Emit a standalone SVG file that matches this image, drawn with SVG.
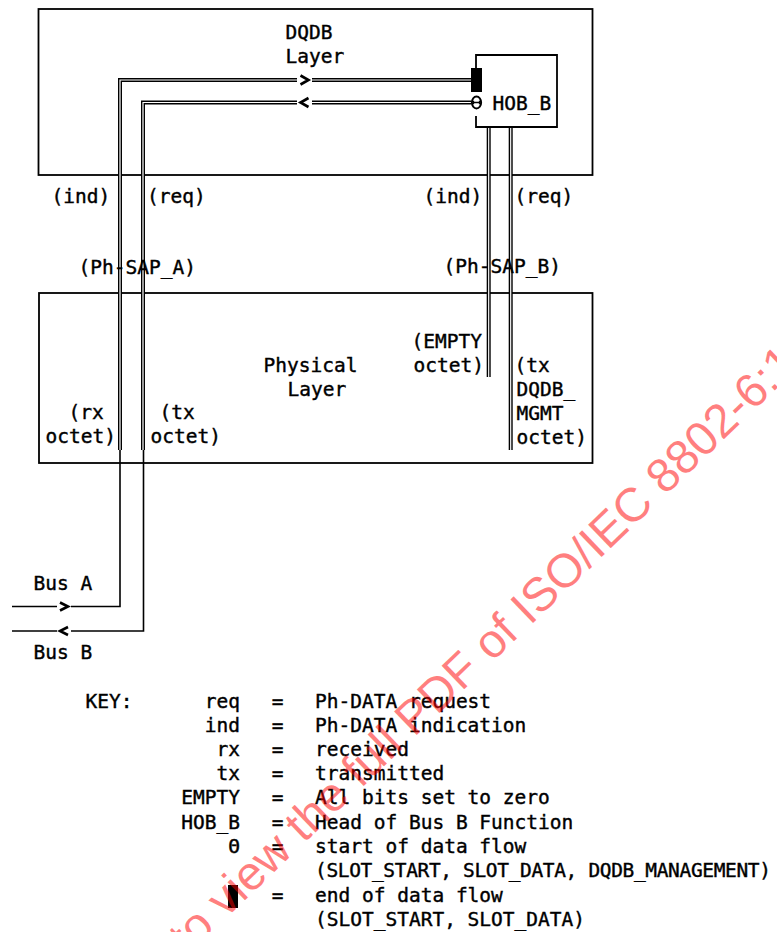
<svg xmlns="http://www.w3.org/2000/svg" xmlns:xlink="http://www.w3.org/1999/xlink" width="777" height="932" viewBox="0 0 777 932">
<style>
text{font-family:"DejaVu Sans Mono","Liberation Mono",monospace;font-size:19.5px;fill:#000;stroke:#000;stroke-width:0.4}
.box{fill:none;stroke:#000;stroke-width:1.8}
.dbl{fill:none;stroke:#000;stroke-width:4}
.dblin{fill:none;stroke:#fff;stroke-width:1.2}
.sgl{fill:none;stroke:#000;stroke-width:1.6}
.chev{fill:none;stroke:#000;stroke-width:2.6;stroke-linejoin:miter}
.gap{fill:#fff}
.end{text-anchor:end}
.mid{text-anchor:middle}
text.wm{font-family:"Liberation Sans",Arial,sans-serif;font-size:47.5px;fill:#ff0000;fill-opacity:0.5;stroke:none}
</style>
<defs>
<path id="pA" d="M120,450 V80 H471"/>
<path id="pB" d="M471,102.5 H143 V450"/>
<path id="pC" d="M488.7,127 V377"/>
<path id="pD" d="M510.7,127 V450"/>
</defs>
<rect width="777" height="932" fill="#fff"/>

<g id="dqdb-layer">
<rect class="box" x="38.5" y="9" width="554" height="166"/>
<text x="285.5" y="39">DQDB</text>
<text x="285.5" y="63">Layer</text>
</g>

<g id="physical-layer">
<rect class="box" x="39" y="293" width="553.5" height="170"/>
<text x="263.5" y="372">Physical</text>
<text x="287.5" y="396">Layer</text>
</g>

<g id="connectors">
<use href="#pA" class="dbl"/><use href="#pA" class="dblin"/>
<use href="#pB" class="dbl"/><use href="#pB" class="dblin"/>
<use href="#pC" class="dbl"/><use href="#pC" class="dblin"/>
<use href="#pD" class="dbl"/><use href="#pD" class="dblin"/>
<path class="sgl" d="M120,450 V606.5 H12"/>
<path class="sgl" d="M143.5,450 V631 H12"/>
<rect class="gap" x="297" y="76" width="15" height="9"/>
<path class="chev" d="M300.5,75.5 L308.5,80 L300.5,84.5"/>
<rect class="gap" x="297" y="98" width="15" height="9"/>
<path class="chev" d="M308.5,98 L300.5,102.5 L308.5,107"/>
<rect class="gap" x="57" y="603" width="14" height="7"/>
<path class="chev" d="M60,602.5 L68,606.5 L60,610.5"/>
<rect class="gap" x="57" y="627" width="14" height="7"/>
<path class="chev" d="M68,627 L60,631 L68,635"/>
</g>

<g id="hob-b">
<path class="box" d="M476,68 V55 H557 V127 H476 V116"/>
<rect x="471" y="68" width="11" height="24" fill="#000"/>
<ellipse cx="476.5" cy="102.5" rx="4.6" ry="6" fill="#fff" stroke="#000" stroke-width="2"/>
<path d="M473.5,102.5 H479.5 M473.5,100.8 V104.2 M479.5,100.8 V104.2" stroke="#000" stroke-width="1.3"/>
<text x="492.5" y="110">HOB_B</text>
</g>

<g id="sap-a">
<text x="51.5" y="203">(ind)</text>
<text x="147" y="203">(req)</text>
<text x="78.5" y="274">(Ph-SAP_A)</text>
<text x="68.5" y="419">(rx</text>
<text x="45.5" y="443">octet)</text>
<text x="159.5" y="419">(tx</text>
<text x="150.5" y="443">octet)</text>
</g>

<g id="sap-b">
<text x="423.5" y="203">(ind)</text>
<text x="514.5" y="203">(req)</text>
<text x="443.5" y="273">(Ph-SAP_B)</text>
<text x="411.5" y="348">(EMPTY</text>
<text x="413.5" y="372">octet)</text>
<text x="514.5" y="372">(tx</text>
<text x="516.5" y="396">DQDB_</text>
<text x="516.5" y="420">MGMT</text>
<text x="516.5" y="444">octet)</text>
</g>

<g id="bus-a"><text x="33.5" y="590">Bus A</text></g>
<g id="bus-b"><text x="33.5" y="659">Bus B</text></g>

<g id="key">
<text x="85.5" y="708">KEY:</text>
<text class="end" x="240" y="708">req</text>
<text class="end" x="240" y="732">ind</text>
<text class="end" x="240" y="756">rx</text>
<text class="end" x="240" y="780">tx</text>
<text class="end" x="240" y="804">EMPTY</text>
<text class="end" x="240" y="829">HOB_B</text>
<text class="end" x="240" y="853">&#920;</text>
<rect x="228" y="885" width="10" height="23" fill="#000"/>
<text class="mid" x="277.7" y="708">=</text>
<text class="mid" x="277.7" y="732">=</text>
<text class="mid" x="277.7" y="756">=</text>
<text class="mid" x="277.7" y="780">=</text>
<text class="mid" x="277.7" y="804">=</text>
<text class="mid" x="277.7" y="829">=</text>
<text class="mid" x="277.7" y="853">=</text>
<text class="mid" x="277.7" y="902">=</text>
<text x="315" y="708">Ph-DATA request</text>
<text x="315" y="732">Ph-DATA indication</text>
<text x="315" y="756">received</text>
<text x="315" y="780">transmitted</text>
<text x="315" y="804">All bits set to zero</text>
<text x="315" y="829">Head of Bus B Function</text>
<text x="315" y="853">start of data flow</text>
<text x="315" y="877" textLength="456" lengthAdjust="spacing">(SLOT_START, SLOT_DATA, DQDB_MANAGEMENT)</text>
<text x="315" y="902">end of data flow</text>
<text x="315" y="926">(SLOT_START, SLOT_DATA)</text>
</g>

<g id="watermark">
<text class="wm" transform="translate(104,1036) rotate(-43.9)">Click to view the full PDF of ISO/IEC 8802-6:1994</text>
</g>
</svg>
